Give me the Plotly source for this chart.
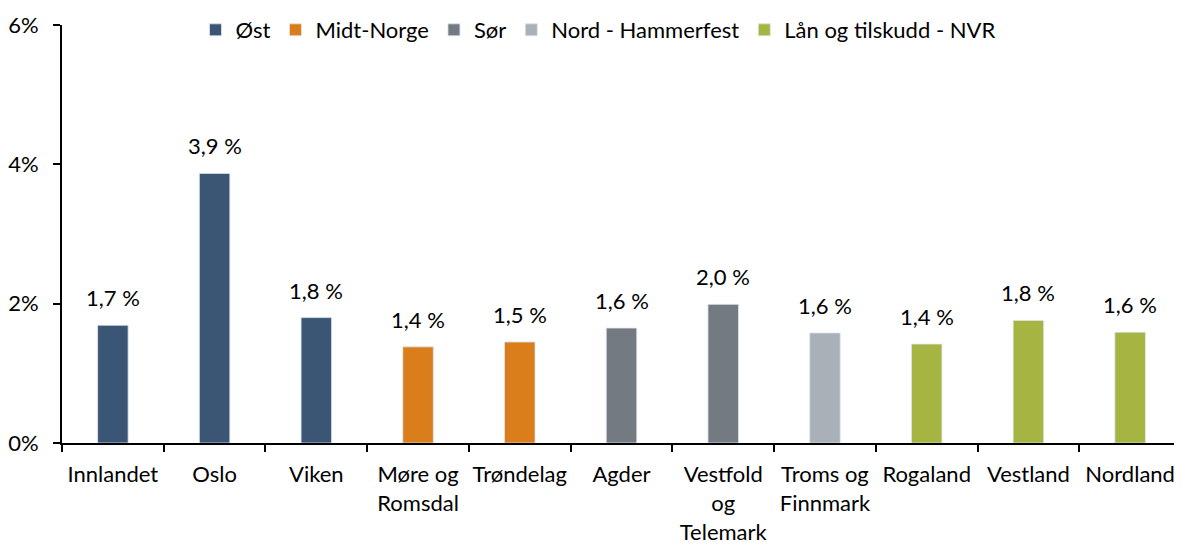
import plotly.graph_objects as go

categories = ["Innlandet", "Oslo", "Viken", "Møre og<br>Romsdal", "Trøndelag", "Agder",
              "Vestfold<br>og<br>Telemark", "Troms og<br>Finnmark", "Rogaland", "Vestland", "Nordland"]
values = [1.69, 3.87, 1.80, 1.38, 1.45, 1.65, 1.99, 1.58, 1.42, 1.76, 1.59]
labels = ["1,7 %", "3,9 %", "1,8 %", "1,4 %", "1,5 %", "1,6 %", "2,0 %", "1,6 %", "1,4 %", "1,8 %", "1,6 %"]
groups = ["Øst", "Øst", "Øst", "Midt-Norge", "Midt-Norge", "Sør", "Sør",
          "Nord - Hammerfest", "Lån og tilskudd - NVR", "Lån og tilskudd - NVR", "Lån og tilskudd - NVR"]
group_names = ["Øst", "Midt-Norge", "Sør", "Nord - Hammerfest", "Lån og tilskudd - NVR"]
group_colors = ["#3A5674", "#D97E1A", "#737A82", "#A9B0B7", "#A6B441"]
y_ticks = [0, 2, 4, 6]
y_ticktext = ["0%", "2%", "4%", "6%"]

FONT = "Lato, Open Sans, sans-serif"
FS = 22

fig = go.Figure()
for g, c in zip(group_names, group_colors):
    idx = [i for i, gg in enumerate(groups) if gg == g]
    fig.add_trace(go.Bar(
        x=[categories[i] for i in idx],
        y=[values[i] for i in idx],
        name=g,
        marker=dict(color=c, line=dict(color="rgba(220,230,240,0.8)", width=1)),
        width=0.3,
        hoverinfo="x+y",
    ))

for cat, v, lab in zip(categories, values, labels):
    fig.add_annotation(x=cat, y=v, text=lab, showarrow=False, yanchor="bottom",
                       yshift=12, font=dict(size=FS, family=FONT, color="#000000"))

fig.update_layout(
    width=1174, height=537,
    margin=dict(l=54, r=1, t=9, b=102),
    barmode="overlay",
    plot_bgcolor="white", paper_bgcolor="white",
    font=dict(family=FONT, size=FS, color="#000000"),
    showlegend=True,
    legend=dict(orientation="h", x=0.479, xanchor="center", y=0.988, yanchor="middle",
                font=dict(size=FS, family=FONT), bgcolor="rgba(0,0,0,0)",
                itemwidth=30, tracegroupgap=0),
    xaxis=dict(categoryorder="array", categoryarray=categories,
               showline=True, linecolor="#000000", linewidth=2,
               ticks="outside", tickson="boundaries", ticklen=7, tickwidth=2, tickcolor="#000000",
               showgrid=False, automargin=False, ticklabelstandoff=11, tickangle=0,
               tickfont=dict(size=FS, family=FONT)),
    yaxis=dict(range=[0, 6], tickvals=y_ticks, ticktext=y_ticktext,
               showline=True, linecolor="#000000", linewidth=2,
               ticks="outside", ticklen=7, tickwidth=2, tickcolor="#000000",
               showgrid=False, zeroline=False, automargin=False, ticklabelstandoff=10,
               tickfont=dict(size=FS, family=FONT)),
)

fig.write_html("out.html")
